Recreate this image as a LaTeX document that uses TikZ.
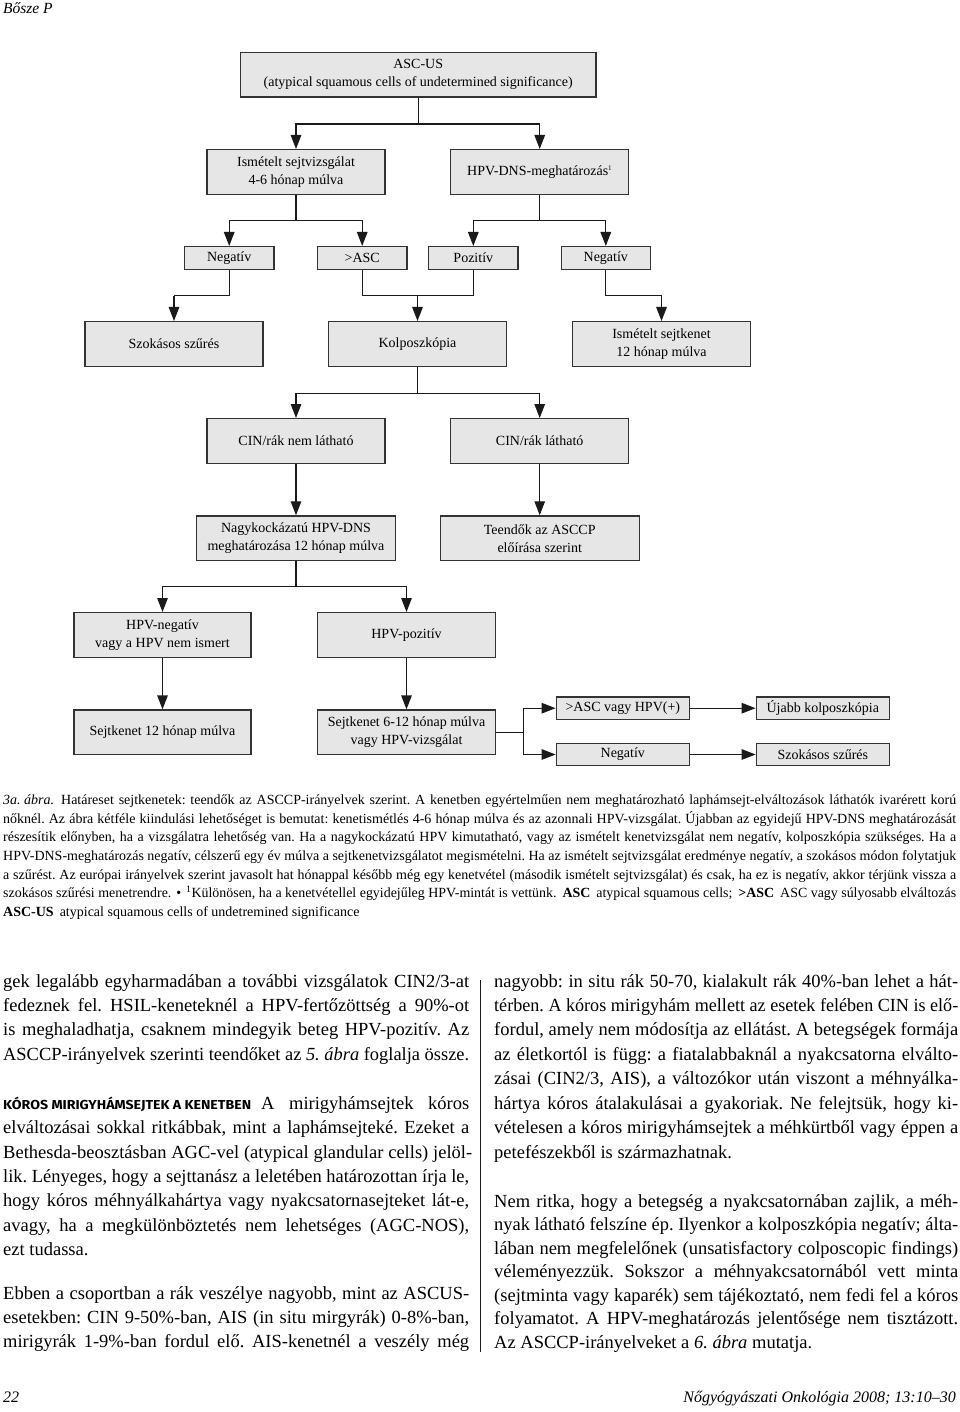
\documentclass[tikz,border=0pt]{standalone}
\usepackage{fontspec}
\usepackage{graphicx}
\setmainfont{Liberation Serif}
\newfontfamily\headsans{Fira Sans}
\usetikzlibrary{arrows.meta}
\definecolor{boxfill}{HTML}{E6E6E6}
\definecolor{boxdraw}{HTML}{333333}
\definecolor{linecol}{HTML}{1A1A1A}
\newcommand\diagfont{\fontsize{14}{18}\selectfont}
\newcommand\capfont{\fontsize{14}{18}\selectfont}
\newcommand\bodyfont{\fontsize{18.5}{24}\selectfont}
\newsavebox\jlbox
\newcommand\fitline[2]{\sbox\jlbox{#2}\ifdim\wd\jlbox>#1\relax\resizebox{#1}{\height}{\usebox\jlbox}\else\makebox[#1][s]{#2}\fi}
\tikzset{
  box/.style={draw=boxdraw, fill=boxfill, line width=1.4pt, inner sep=0pt, align=center, font=\diagfont},
  ln/.style={line width=1.3pt, draw=linecol},
  arr/.style={ln, -{Triangle[length=14pt,width=10.5pt]}},
  capline/.style={anchor=mid west, inner sep=0pt, font=\capfont},
  bodyline/.style={anchor=mid west, inner sep=0pt, font=\bodyfont},
}
\frenchspacing
\begin{document}
\frenchspacing
\begin{tikzpicture}[x=1pt,y=-1pt]
\fill[white] (0,0) rectangle (960,1412);
\useasboundingbox (0,0) rectangle (960,1412);

% header
\node[anchor=north west, inner sep=0pt, font=\fontsize{15.5}{18}\selectfont\itshape] (hdr) at (3,2) {Bősze P};

% ---------- diagram ----------
\node[box, minimum width=355.5pt, minimum height=44.6pt] (asc) at (418.2,74.8) {ASC-US\\(atypical squamous cells of undetermined significance)};
\node[box, minimum width=178pt, minimum height=44.6pt] (ism) at (296,172) {Ismételt sejtvizsgálat\\4-6 hónap múlva};
\node[box, minimum width=178pt, minimum height=44.6pt] (hpv) at (539.7,172) {HPV-DNS-meghatározás\textsuperscript{\fontsize{7}{8}\selectfont 1}};

\node[box, minimum width=89.2pt, minimum height=22.6pt] (neg1) at (229.2,258) {Negatív};
\node[box, minimum width=89.2pt, minimum height=22.6pt] (gasc) at (362.2,258) {>ASC};
\node[box, minimum width=89.2pt, minimum height=22.6pt] (poz) at (473.3,258) {Pozitív};
\node[box, minimum width=89.2pt, minimum height=22.6pt] (neg2) at (605.8,258) {Negatív};

\node[box, minimum width=178pt, minimum height=45pt] (szok) at (174,344.2) {Szokásos szűrés};
\node[box, minimum width=178pt, minimum height=45pt] (kolp) at (417.5,344.2) {Kolposzkópia};
\node[box, minimum width=178pt, minimum height=45pt] (ism2) at (661.5,344.2) {Ismételt sejtkenet\\12 hónap múlva};

\node[box, minimum width=178pt, minimum height=44.6pt] (cinn) at (296,441) {CIN/rák nem látható};
\node[box, minimum width=178pt, minimum height=44.6pt] (cinl) at (539.7,441) {CIN/rák látható};

\node[box, minimum width=199pt, minimum height=44.7pt] (nagy) at (296,538.3) {Nagykockázatú HPV-DNS\\meghatározása 12 hónap múlva};
\node[box, minimum width=199pt, minimum height=44.7pt] (teen) at (539.7,538.3) {Teendők az ASCCP\\előírása szerint};

\node[box, minimum width=177pt, minimum height=45pt] (hneg) at (162.5,635.2) {HPV-negatív\\vagy a HPV nem ismert};
\node[box, minimum width=178pt, minimum height=45pt] (hpoz) at (406.5,635.2) {HPV-pozitív};

\node[box, minimum width=177pt, minimum height=44.3pt] (sejt12) at (162.5,732.2) {Sejtkenet 12 hónap múlva};
\node[box, minimum width=178pt, minimum height=44.3pt] (sejt612) at (406.5,732.2) {Sejtkenet 6-12 hónap múlva\\vagy HPV-vizsgálat};

\node[box, minimum width=133pt, minimum height=22.3pt] (gaschpv) at (622.8,708.2) {>ASC vagy HPV(+)};
\node[box, minimum width=133pt, minimum height=22.3pt] (negb) at (622.8,754.5) {Negatív};
\node[box, minimum width=133pt, minimum height=22.3pt] (ujabb) at (822.8,708.2) {Újabb kolposzkópia};
\node[box, minimum width=133pt, minimum height=22.3pt] (szok2) at (822.8,754.5) {Szokásos szűrés};

% connectors
\draw[ln] (asc.south) -- ++(0,26.3) coordinate (j1);
\draw[arr] (j1) -| (ism.north);
\draw[arr] (j1) -| (hpv.north);

\draw[ln] (ism.south) -- ++(0,25.7) coordinate (j2);
\draw[arr] (j2) -| (neg1.north);
\draw[arr] (j2) -| (gasc.north);
\draw[ln] (hpv.south) -- ++(0,25.7) coordinate (j3);
\draw[arr] (j3) -| (poz.north);
\draw[arr] (j3) -| (neg2.north);

\coordinate (j4) at (174,295.7);
\draw[ln] (neg1.south) |- (j4);
\draw[arr] (j4) -- (szok.north);
\coordinate (j5) at (417.5,295.7);
\draw[ln] (gasc.south) |- (j5) -| (poz.south);
\draw[arr] (j5) -- (kolp.north);
\coordinate (j6) at (661.5,295.7);
\draw[ln] (neg2.south) |- (j6);
\draw[arr] (j6) -- (ism2.north);

\draw[ln] (kolp.south) -- ++(0,26) coordinate (j7);
\draw[arr] (j7) -| (cinn.north);
\draw[arr] (j7) -| (cinl.north);
\draw[arr] (cinn.south) -- (nagy.north);
\draw[arr] (cinl.south) -- (teen.north);

\draw[ln] (nagy.south) -- ++(0,25.3) coordinate (j8);
\draw[arr] (j8) -| (hneg.north);
\draw[arr] (j8) -| (hpoz.north);
\draw[arr] (hneg.south) -- (sejt12.north);
\draw[arr] (hpoz.south) -- (sejt612.north);

\draw[ln] (sejt612.east) -- ++(27,0) coordinate (j9);
\draw[arr] (j9) |- (gaschpv.west);
\draw[arr] (j9) |- (negb.west);
\draw[arr] (gaschpv.east) -- (ujabb.west);
\draw[arr] (negb.east) -- (szok2.west);

% ---------- caption ----------
\node[capline] (c1) at (3,802) {\fitline{953pt}{\textit{3a.\hspace{3.5pt}ábra.}\hspace{7pt}Határeset sejtkenetek: teendők az ASCCP-irányelvek szerint. A kenetben egyértelműen nem meghatározható laphámsejt-elváltozások láthatók ivarérett korú}};
\node[capline] (c2) at (3,820.7) {\fitline{953pt}{nőknél. Az ábra kétféle kiindulási lehetőséget is bemutat: kenetismétlés 4-6 hónap múlva és az azonnali HPV-vizsgálat. Újabban az egyidejű HPV-DNS meghatározását}};
\node[capline] (c3) at (3,839.3) {\fitline{953pt}{részesítik előnyben, ha a vizsgálatra lehetőség van. Ha a nagykockázatú HPV kimutatható, vagy az ismételt kenetvizsgálat nem negatív, kolposzkópia szükséges. Ha a}};
\node[capline] (c4) at (3,858) {\fitline{953pt}{HPV-DNS-meghatározás negatív, célszerű egy év múlva a sejtkenetvizsgálatot megismételni. Ha az ismételt sejtvizsgálat eredménye negatív, a szokásos módon folytatjuk}};
\node[capline] (c5) at (3,876.7) {\fitline{953pt}{a szűrést. Az európai irányelvek szerint javasolt hat hónappal később még egy kenetvétel (második ismételt sejtvizsgálat) és csak, ha ez is negatív, akkor térjünk vissza a}};
\node[capline] (c6) at (3,895.3) {\fitline{953pt}{szokásos szűrési menetrendre.\hspace{5pt}•\hspace{5pt}\textsuperscript{1}Különösen, ha a kenetvétellel egyidejűleg HPV-mintát is vettünk.\hspace{6pt}\textbf{ASC}\hspace{6pt}atypical squamous cells;\hspace{6pt}\textbf{>ASC}\hspace{6pt}ASC vagy súlyosabb elváltozás}};
\node[capline] (c7) at (3,914) {\textbf{ASC-US}\hspace{6pt}atypical squamous cells of undetremined significance};

% ---------- body, left column ----------
\node[bodyline] (L1) at (3,985) {\fitline{466pt}{gek legalább egyharmadában a további vizsgálatok CIN2/3-at}};
\node[bodyline] (L2) at (3,1009) {\fitline{466pt}{fedeznek fel. HSIL-keneteknél a HPV-fertőzöttség a 90\%-ot}};
\node[bodyline] (L3) at (3,1033) {\fitline{466pt}{is meghaladhatja, csaknem mindegyik beteg HPV-pozitív. Az}};
\node[bodyline] (L4) at (3,1058) {\fitline{466pt}{ASCCP-irányelvek szerinti teendőket az \textit{5. ábra} foglalja össze.}};
\node[bodyline] (L5) at (3,1107) {\fitline{466pt}{\resizebox{248pt}{\height}{\headsans\bfseries\fontsize{13}{14}\selectfont KÓROS MIRIGYHÁMSEJTEK A KENETBEN}\hspace{10pt}A mirigyhámsejtek kóros}};
\node[bodyline] (L6) at (3,1131.5) {\fitline{466pt}{elváltozásai sokkal ritkábbak, mint a laphámsejteké. Ezeket a}};
\node[bodyline] (L7) at (3,1156) {\fitline{469pt}{Bethesda-beosztásban AGC-vel (atypical glandular cells) jelöl-}};
\node[bodyline] (L8) at (3,1180) {\fitline{466pt}{lik. Lényeges, hogy a sejttanász a leletében határozottan írja le,}};
\node[bodyline] (L9) at (3,1204.5) {\fitline{466pt}{hogy kóros méhnyálkahártya vagy nyakcsatornasejteket lát-e,}};
\node[bodyline] (L10) at (3,1229) {\fitline{466pt}{avagy, ha a megkülönböztetés nem lehetséges (AGC-NOS),}};
\node[bodyline] (L11) at (3,1253) {ezt tudassa.};
\node[bodyline] (L12) at (3,1297) {\fitline{466pt}{Ebben a csoportban a rák veszélye nagyobb, mint az ASCUS-}};
\node[bodyline] (L13) at (3,1321) {\fitline{466pt}{esetekben: CIN 9-50\%-ban, AIS (in situ mirgyrák) 0-8\%-ban,}};
\node[bodyline] (L14) at (3,1345) {\fitline{466pt}{mirigyrák 1-9\%-ban fordul elő. AIS-kenetnél a veszély még}};

% column rule
\coordinate (rt) at (480,980);
\coordinate (rb) at (480,1352);
\draw[line width=1pt, draw=linecol] (rt) -- (rb);

% ---------- body, right column ----------
\node[bodyline] (R1) at (494,985) {\fitline{464pt}{nagyobb: in situ rák 50-70, kialakult rák 40\%-ban lehet a hát-}};
\node[bodyline] (R2) at (494,1009) {\fitline{464pt}{térben. A kóros mirigyhám mellett az esetek felében CIN is elő-}};
\node[bodyline] (R3) at (494,1033) {\fitline{464pt}{fordul, amely nem módosítja az ellátást. A betegségek formája}};
\node[bodyline] (R4) at (494,1058) {\fitline{464pt}{az életkortól is függ: a fiatalabbaknál a nyakcsatorna elválto-}};
\node[bodyline] (R5) at (494,1082) {\fitline{464pt}{zásai (CIN2/3, AIS), a változókor után viszont a méhnyálka-}};
\node[bodyline] (R6) at (494,1107) {\fitline{464pt}{hártya kóros átalakulásai a gyakoriak. Ne felejtsük, hogy ki-}};
\node[bodyline] (R7) at (494,1131) {\fitline{464pt}{vételesen a kóros mirigyhámsejtek a méhkürtből vagy éppen a}};
\node[bodyline] (R8) at (494,1156) {petefészekből is származhatnak.};
\node[bodyline] (R9) at (494,1205) {\fitline{464pt}{Nem ritka, hogy a betegség a nyakcsatornában zajlik, a méh-}};
\node[bodyline] (R10) at (494,1228.5) {\fitline{464pt}{nyak látható felszíne ép. Ilyenkor a kolposzkópia negatív; álta-}};
\node[bodyline] (R11) at (494,1252) {\fitline{464pt}{lában nem megfelelőnek (unsatisfactory colposcopic findings)}};
\node[bodyline] (R12) at (494,1275.5) {\fitline{464pt}{véleményezzük. Sokszor a méhnyakcsatornából vett minta}};
\node[bodyline] (R13) at (494,1299) {\fitline{464pt}{(sejtminta vagy kaparék) sem tájékoztató, nem fedi fel a kóros}};
\node[bodyline] (R14) at (494,1322.5) {\fitline{464pt}{folyamatot. A HPV-meghatározás jelentősége nem tisztázott.}};
\node[bodyline] (R15) at (494,1346) {Az ASCCP-irányelveket a \textit{6. ábra} mutatja.};

% footer
\node[anchor=mid west, inner sep=0pt, font=\fontsize{16}{18}\selectfont\itshape] (pg) at (3,1400) {22};
\node[anchor=mid east, inner sep=0pt, font=\fontsize{16}{18}\selectfont\itshape] (jr) at (956,1400) {Nőgyógyászati Onkológia 2008; 13:10–30};
\end{tikzpicture}
\end{document}
